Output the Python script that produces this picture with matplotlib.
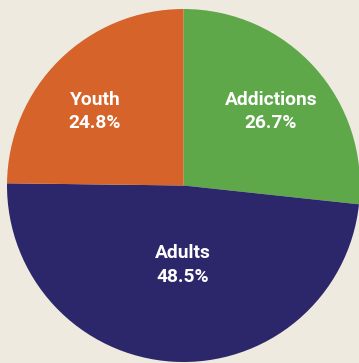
import matplotlib
matplotlib.use("Agg")
import matplotlib.pyplot as plt

# Share of program spending by area
categories = ["Addictions", "Adults", "Youth"]
shares = [26.7, 48.5, 24.8]
colors = ["#5FA84A", "#2C266B", "#D5632A"]

# Label anchor points (figure pixel space, origin bottom-left)
label_xy = [(271, 251.5), (183, 98), (95, 251.5)]

W, H = 359, 363
fig = plt.figure(figsize=(W / 100, H / 100), dpi=100)
fig.patch.set_facecolor("#EEEADF")
ax = fig.add_axes([0, 0, 1, 1])
ax.set_xlim(0, W)
ax.set_ylim(0, H)
ax.set_aspect("equal")
ax.axis("off")

ax.pie(shares, colors=colors, startangle=90, counterclock=False,
       center=(183.5, 177.5), radius=176.5,
       wedgeprops=dict(linewidth=0, antialiased=True))
ax.set_xlim(0, W)
ax.set_ylim(0, H)

for name, val, (x, y) in zip(categories, shares, label_xy):
    ax.text(x, y, f"{name}\n{val:.1f}%", ha="center", va="center",
            color="white", fontsize=13.8, fontweight="bold",
            family="Roboto", linespacing=1.4)

fig.savefig("out.png", dpi=100, facecolor=fig.get_facecolor())
